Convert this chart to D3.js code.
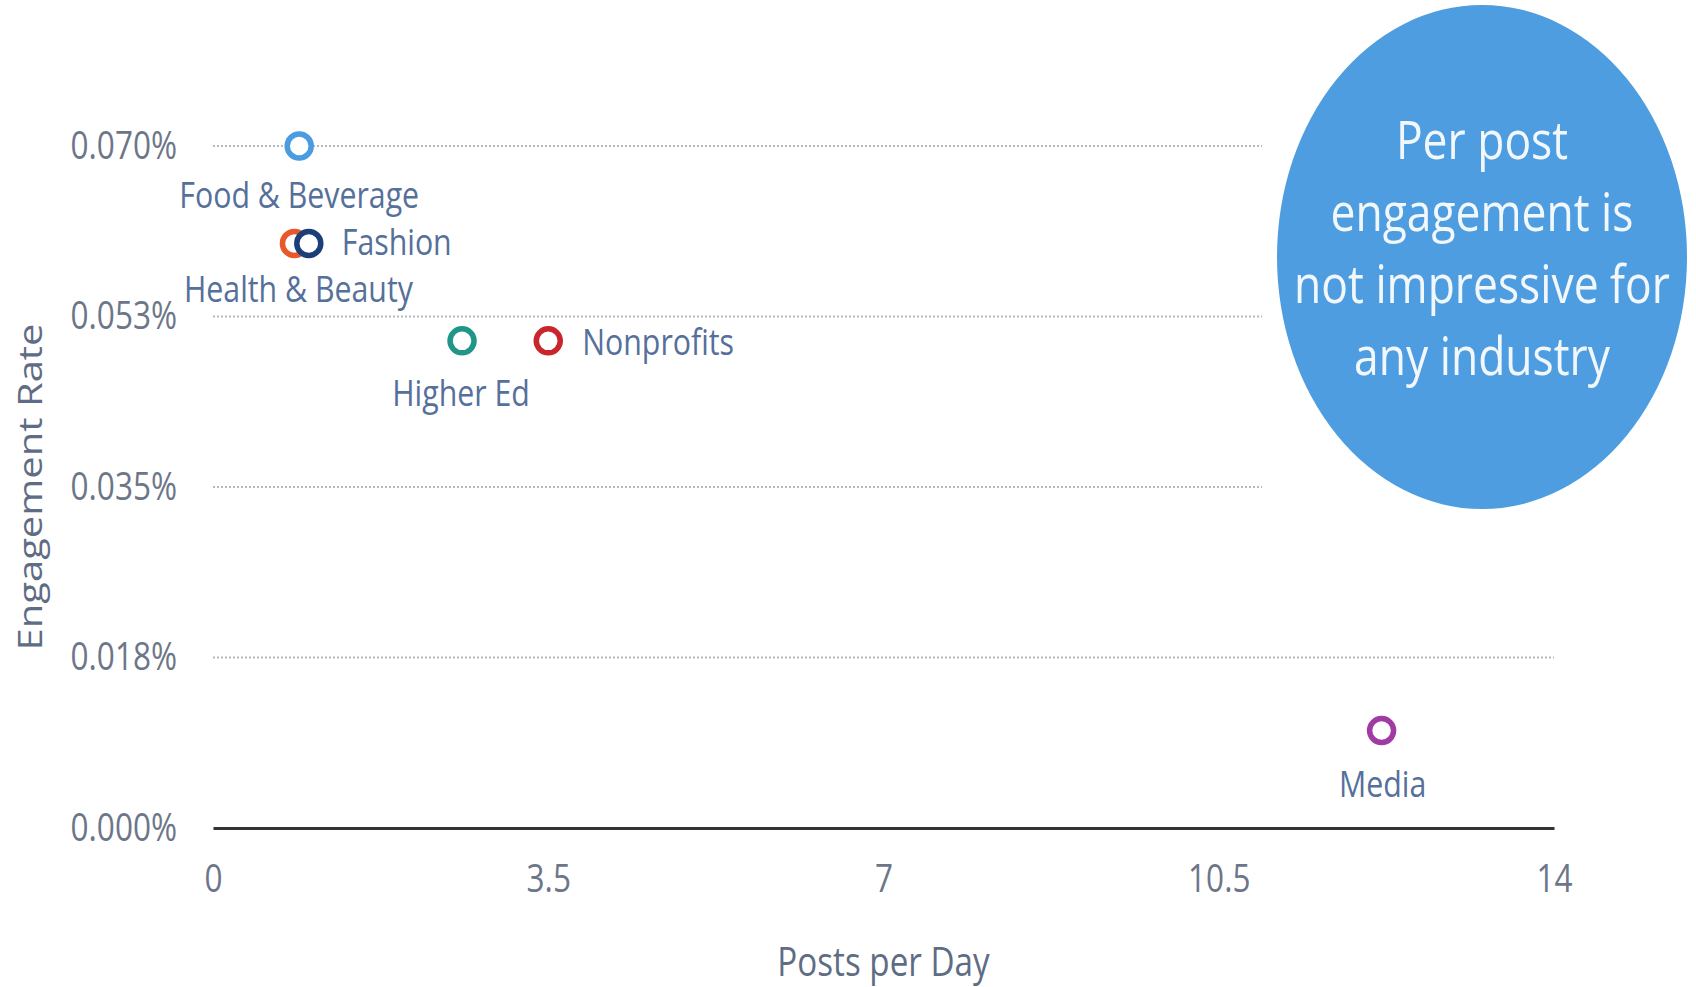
<!DOCTYPE html>
<html lang="en">
<head>
    <meta charset="UTF-8">
    <title>Engagement Rate vs Posts per Day</title>
    <style>
        body { margin: 0; background: #fff; }
        text { font-family: "Open Sans", "DejaVu Sans", sans-serif; }
    </style>
</head>
<body>
<div id="chart"></div>
<script src="https://cdn.jsdelivr.net/npm/d3@7"></script>
<script>
    // data (engagement in percent)
    const industries = ["Food & Beverage", "Health & Beauty", "Fashion", "Higher Ed", "Nonprofits", "Media"];
    const postsPerDay = [0.9, 0.85, 1.0, 2.6, 3.5, 12.2];
    const engagementRate = [0.070, 0.060, 0.060, 0.050, 0.050, 0.010];
    const xTicks = [0, 3.5, 7, 10.5, 14];
    const yTicks = [0, 0.0175, 0.035, 0.0525, 0.07];
    const yTickLabels = ["0.000%", "0.018%", "0.035%", "0.053%", "0.070%"];
    const calloutLines = ["Per post", "engagement is", "not impressive for", "any industry"];

    const width = 1696,
        height = 987,
        sq = 0.83; // the original is squeezed horizontally

    const colors = {
        "Food & Beverage": "#4a9be0",
        "Fashion": "#1d3f78",
        "Health & Beauty": "#e8582a",
        "Higher Ed": "#1f9688",
        "Nonprofits": "#c9252c",
        "Media": "#a03aa4"
    };
    // label offsets from point centre
    const labelPos = {
        "Food & Beverage": {dx: 0, dy: 62, anchor: "middle"},
        "Fashion": {dx: 33, dy: 12, anchor: "start"},
        "Health & Beauty": {dx: 4, dy: 59, anchor: "middle"},
        "Higher Ed": {dx: -1, dy: 65, anchor: "middle"},
        "Nonprofits": {dx: 34, dy: 14, anchor: "start"},
        "Media": {dx: 1, dy: 66, anchor: "middle"}
    };

    const data = industries.map((d, i) => ({name: d, x: postsPerDay[i], y: engagementRate[i]}));

    let svg = d3.select("#chart")
        .append("svg")
        .attr("width", width)
        .attr("height", height);

    const x = d3.scaleLinear().domain([0, 14]).range([213, 1554]);
    const y = d3.scaleLinear().domain([0, 0.07]).range([828, 146]);

    // dotted grid
    svg.append("g")
        .selectAll("line")
        .data(yTicks.filter(d => d > 0))
        .join("line")
        .attr("x1", x(0))
        .attr("x2", x(14))
        .attr("y1", d => y(d))
        .attr("y2", d => y(d))
        .attr("stroke", "#b5b8be")
        .attr("stroke-width", 2)
        .attr("stroke-dasharray", "2,2");

    // white block behind the callout hides the grid ends
    svg.append("rect")
        .attr("x", 1262).attr("y", 0)
        .attr("width", width - 1262).attr("height", 560)
        .attr("fill", "#fff");

    // x axis
    let gx = svg.append("g")
        .attr("transform", `translate(0, ${y(0)})`)
        .call(d3.axisBottom(x).tickValues(xTicks).tickSize(0).tickPadding(37)
            .tickFormat(d => String(d)));
    gx.select(".domain").attr("stroke", "#333").attr("stroke-width", 3);
    gx.selectAll(".tick text")
        .attr("font-size", 38)
        .attr("fill", "#6d7689")
        .style("font-family", '"Open Sans", sans-serif')
        .attr("transform", `scale(${sq},1)`);

    // y axis
    let gy = svg.append("g")
        .attr("transform", `translate(${x(0)}, 0)`)
        .call(d3.axisLeft(y).tickValues(yTicks).tickSize(0)
            .tickFormat((d, i) => yTickLabels[i]));
    gy.select(".domain").remove();
    gy.selectAll(".tick text")
        .attr("font-size", 38)
        .attr("fill", "#6d7689")
        .style("font-family", '"Open Sans", sans-serif')
        .attr("x", -36 / sq)
        .attr("transform", `scale(${sq},1)`);

    // axis titles
    svg.append("text")
        .attr("transform", `translate(${x(7)}, 976) scale(${sq},1)`)
        .attr("text-anchor", "middle")
        .attr("font-size", 40)
        .attr("fill", "#5e6c84")
        .text("Posts per Day");

    svg.append("text")
        .attr("transform", `translate(42, 487) rotate(-90) scale(1,${sq})`)
        .attr("text-anchor", "middle")
        .attr("font-size", 40)
        .attr("fill", "#5e6c84")
        .text("Engagement Rate");

    // points
    svg.append("g")
        .selectAll("circle")
        .data(data)
        .join("circle")
        .attr("cx", d => x(d.x))
        .attr("cy", d => y(d.y))
        .attr("r", 12)
        .attr("fill", "#fff")
        .attr("stroke", d => colors[d.name])
        .attr("stroke-width", 5.5);

    svg.append("g")
        .selectAll("text")
        .data(data)
        .join("text")
        .attr("transform", d => `translate(${x(d.x) + labelPos[d.name].dx}, ${y(d.y) + labelPos[d.name].dy}) scale(${sq},1)`)
        .attr("text-anchor", d => labelPos[d.name].anchor)
        .attr("font-size", 36.5)
        .attr("fill", "#55709a")
        .text(d => d.name);

    // callout bubble
    svg.append("ellipse")
        .attr("cx", 1482).attr("cy", 257)
        .attr("rx", 205).attr("ry", 252)
        .attr("fill", "#4d9de0");

    svg.append("g")
        .selectAll("text")
        .data(calloutLines)
        .join("text")
        .attr("transform", (d, i) => `translate(1482, ${159 + i * 72}) scale(${sq},1)`)
        .attr("text-anchor", "middle")
        .attr("font-size", 53.5)
        .attr("fill", "#f2f7fc")
        .text(d => d);
</script>
</body>
</html>
